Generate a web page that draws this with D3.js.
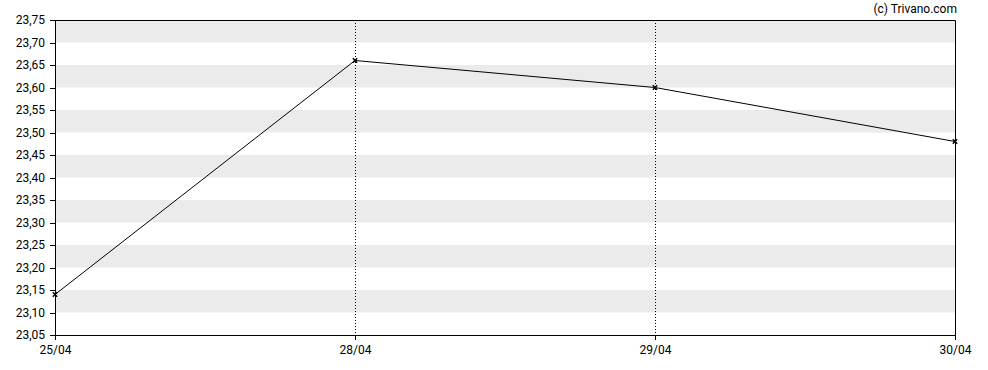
<!DOCTYPE html>
<meta charset="utf-8">
<script src="https://cdn.jsdelivr.net/npm/d3@7/dist/d3.min.js"></script>
<style>
    body { margin: 0; background: #fff; }
    text { font-family: Roboto, "Open Sans", sans-serif; font-size: 12px; fill: #000; }
    .axis path, .axis line { stroke: #000; shape-rendering: crispEdges; }
</style>
<body>
<script>

    var dates = ["25/04", "28/04", "29/04", "30/04"]
    var prices = [23.14, 23.66, 23.60, 23.48]
    var yTicks = [23.05, 23.10, 23.15, 23.20, 23.25, 23.30, 23.35, 23.40, 23.45, 23.50, 23.55, 23.60, 23.65, 23.70, 23.75]

    var W = 988, H = 370
    var margin = {top: 20, right: 33, bottom: 35, left: 55}
    var w = W - margin.left - margin.right
    var h = H - margin.top - margin.bottom

    var svg = d3.select("body").append("svg").attr("width", W).attr("height", H)
    var g = svg.append("g").attr("transform", "translate(" + margin.left + "," + margin.top + ")")

    var x = d3.scalePoint().domain(dates).range([0, w])
    var y = d3.scaleLinear().domain([23.05, 23.75]).range([h, 0])

    // alternating bands
    var bands = []
    for (var i = 0; i < yTicks.length - 1; i++) {
        if ((yTicks.length - 2 - i) % 2 == 0) bands.push([yTicks[i], yTicks[i + 1]])
    }
    g.selectAll(".band").data(bands).enter().append("rect")
        .attr("x", 0).attr("width", w)
        .attr("y", d => y(d[1])).attr("height", d => y(d[0]) - y(d[1]))
        .style("fill", "#ebebeb")

    // dotted verticals
    g.selectAll(".vgrid").data(dates.slice(1, -1)).enter().append("line")
        .attr("x1", d => Math.round(x(d)) + 0.5).attr("x2", d => Math.round(x(d)) + 0.5)
        .attr("y1", 0).attr("y2", h)
        .style("stroke", "#000").style("stroke-dasharray", "1,2")

    // frame top/right
    g.append("path").attr("d", "M0,0.5H" + (w + 0.5) + "V" + h)
        .style("fill", "none").style("stroke", "#000")

    var yAxis = d3.axisLeft(y).tickValues(yTicks).tickSize(5).tickSizeOuter(0)
        .tickFormat(d => d3.format(".2f")(d).replace(".", ","))
    g.append("g").attr("class", "axis").call(yAxis)
        .call(a => a.select(".domain").attr("d", "M0.5,0V" + h))
        .selectAll("text").attr("dx", "-2")

    var xAxis = d3.axisBottom(x).tickSize(5).tickSizeOuter(0)
    g.append("g").attr("class", "axis").attr("transform", "translate(0," + h + ")").call(xAxis)
        .selectAll("text").attr("dy", "0.9em")

    d3.selectAll(".axis text").style("font-family", "Roboto, sans-serif").style("font-size", "12px").style("fill", "#000")

    var line = d3.line().x((d, i) => x(dates[i])).y(d => y(d))
    g.append("path").datum(prices).attr("d", line)
        .style("fill", "none").style("stroke", "#000").style("stroke-width", 1)

    var cross = d3.symbol().type(d3.symbolX).size(14)
    g.selectAll(".mk").data(prices).enter().append("path")
        .attr("transform", (d, i) => "translate(" + x(dates[i]) + "," + y(d) + ")")
        .attr("d", cross).style("stroke", "#000").style("stroke-width", 1.5)

    svg.append("text").attr("x", 957).attr("y", 13).attr("text-anchor", "end").text("(c) Trivano.com")

</script>
</body>
